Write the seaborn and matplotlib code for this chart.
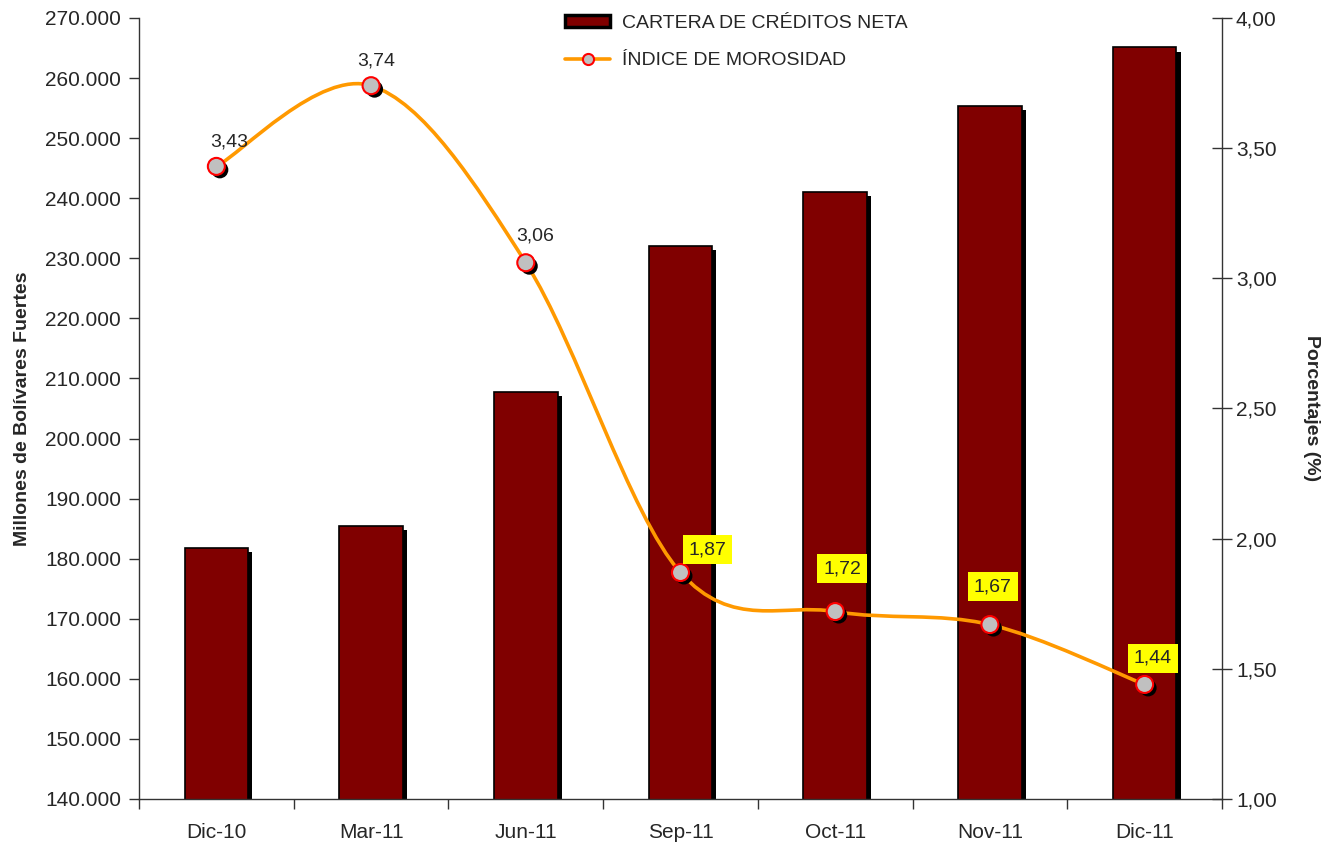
import numpy as np
import matplotlib
matplotlib.use('Agg')
import matplotlib.pyplot as plt
import matplotlib.patheffects as pe
from matplotlib.path import Path
from matplotlib.patches import PathPatch, Rectangle
from matplotlib.lines import Line2D
from matplotlib.ticker import FuncFormatter, MultipleLocator, FixedLocator
import seaborn as sns

# data
months = ['Dic-10', 'Mar-11', 'Jun-11', 'Sep-11', 'Oct-11', 'Nov-11', 'Dic-11']
cartera = [181800, 185400, 207700, 232000, 241100, 255400, 265100]
morosidad = [3.43, 3.74, 3.06, 1.87, 1.72, 1.67, 1.44]
boxed = [False, False, False, True, True, True, True]

# label offsets in pixels (dx, dy up)
label_off = [(13, 24), (5, 25), (9, 27), (27, 23), (7, 43), (3, 38), (8, 26)]

sns.set_style('white')
plt.rcParams['font.family'] = ['Liberation Sans', 'DejaVu Sans']

fig = plt.figure(figsize=(13.33, 8.43), dpi=100)
ax = fig.add_axes([139 / 1333, 44 / 843, 1083 / 1333, 781 / 843])

sns.barplot(x=months, y=cartera, color='#800000', width=0.41, saturation=1,
            edgecolor='black', linewidth=1.2, ax=ax)
for bar in ax.patches:
    bar.set_path_effects([pe.SimplePatchShadow(offset=(3, -3), shadow_rgbFace='black', alpha=1),
                          pe.Normal()])

ax.set_ylim(140000, 270000)
ax.set_xlim(-0.5, len(months) - 0.5)
ax.yaxis.set_major_locator(MultipleLocator(10000))
ax.yaxis.set_major_formatter(FuncFormatter(lambda v, p: f'{v:,.0f}'.replace(',', '.')))
ax.set_xticks(range(len(months)))
ax.set_xticklabels(months)
ax.xaxis.set_minor_locator(FixedLocator(np.arange(-0.5, len(months), 1.0)))
ax.tick_params(axis='x', which='major', length=0, labelsize=15, pad=17)
ax.tick_params(axis='x', which='minor', length=7, direction='out', width=1, color='#333333', bottom=True)
ax.tick_params(axis='y', length=7, direction='out', width=1, color='#333333', labelsize=15, pad=6, left=True)
ax.set_ylabel('Millones de Bolívares Fuertes', fontsize=14, fontweight='bold', labelpad=10)
ax.set_xlabel('')
for s in ['top', 'right']:
    ax.spines[s].set_visible(False)
for s in ['left', 'bottom']:
    ax.spines[s].set_color('#333333')
    ax.spines[s].set_linewidth(1)

ax2 = ax.twinx()
ax2.set_ylim(1, 4)
ax2.yaxis.set_major_locator(MultipleLocator(0.5))
ax2.yaxis.set_major_formatter(FuncFormatter(lambda v, p: f'{v:.2f}'.replace('.', ',')))
ax2.tick_params(axis='y', length=14, direction='inout', width=1, color='#333333', labelsize=15, pad=3)
ax2.set_ylabel('Porcentajes (%)', fontsize=14, fontweight='bold', rotation=270, labelpad=31)
for s in ['top', 'left', 'bottom']:
    ax2.spines[s].set_visible(False)
ax2.spines['right'].set_color('#333333')
ax2.spines['right'].set_linewidth(1)

# smoothed line (Excel-style bezier)
xs = np.arange(len(months), dtype=float)
pts = np.column_stack([xs, morosidad])
verts = [pts[0]]
codes = [Path.MOVETO]
n = len(pts)
for i in range(n - 1):
    p0 = pts[max(i - 1, 0)]
    p1 = pts[i]
    p2 = pts[i + 1]
    p3 = pts[min(i + 2, n - 1)]
    c1 = p1 + (p2 - p0) / 6
    c2 = p2 - (p3 - p1) / 6
    verts += [c1, c2, p2]
    codes += [Path.CURVE4] * 3
ax2.add_patch(PathPatch(Path(verts, codes), facecolor='none', edgecolor='#FF9900',
                        lw=2.6, capstyle='round', joinstyle='round', zorder=3))

sns.scatterplot(x=xs, y=morosidad, ax=ax2, s=150, color='#C0C0C0',
                edgecolor='#FF0000', linewidth=1.5, zorder=4)
for coll in ax2.collections:
    coll.set_path_effects([pe.SimplePatchShadow(offset=(2.5, -2.5), shadow_rgbFace='black', alpha=1),
                           pe.Normal()])

for x, v, b, (dx, dy) in zip(xs, morosidad, boxed, label_off):
    kw = dict(fontsize=14, ha='center', va='center', zorder=6)
    if b:
        kw['bbox'] = dict(boxstyle='square,pad=0.3', facecolor='#FFFF00', edgecolor='none')
    ax2.annotate(f'{v:.2f}'.replace('.', ','), (x, v), xytext=(dx * 0.72, dy * 0.72),
                 textcoords='offset points', **kw)

handles = [Rectangle((0, 0), 1, 1, facecolor='#800000', edgecolor='black', linewidth=2.5),
           Line2D([0], [0], color='#FF9900', lw=2.6, marker='o', markersize=8,
                  markerfacecolor='#C0C0C0', markeredgecolor='#FF0000', markeredgewidth=1.5)]
fig.legend(handles, ['CARTERA DE CRÉDITOS NETA', 'ÍNDICE DE MOROSIDAD'],
           loc='upper left', bbox_to_anchor=(0.411, 1.003), frameon=False, fontsize=14,
           handlelength=2.3, handleheight=0.6, handletextpad=0.6, labelspacing=1.05)

fig.savefig('out.png', dpi=100)
